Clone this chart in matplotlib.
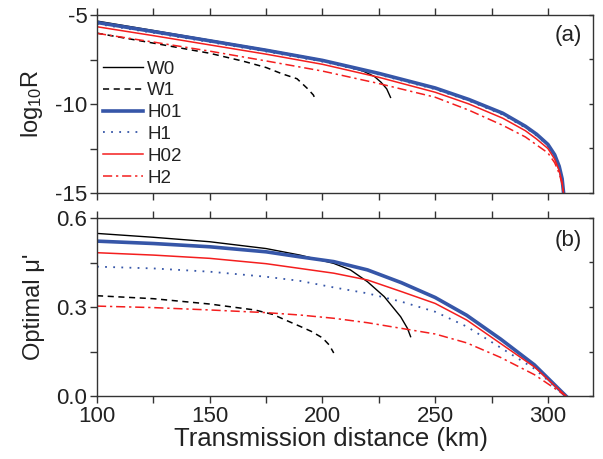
import matplotlib
matplotlib.use("Agg")
import matplotlib.pyplot as plt
from matplotlib.ticker import MultipleLocator

plt.rcParams['font.family'] = ['Liberation Sans', 'DejaVu Sans']
plt.rcParams['mathtext.fontset'] = 'custom'
plt.rcParams['mathtext.rm'] = 'Liberation Sans'
plt.rcParams['mathtext.it'] = 'Liberation Sans:italic'

# ---- Data: panel (a) log10 R ----
d_H = [100, 125, 150, 175, 200, 225, 250, 265, 280, 290, 295, 300, 303, 305, 306.3, 307.2]
R_H01 = [-5.42, -5.93, -6.45, -6.98, -7.55, -8.28, -9.10, -9.75, -10.52, -11.25, -11.70, -12.27, -12.85, -13.50, -14.20, -15.30]
R_H1 = [-5.50, -6.00, -6.52, -7.05, -7.62, -8.35, -9.17, -9.82, -10.60, -11.33, -11.78, -12.35, -12.95, -13.60, -14.30, -15.30]
R_H02 = [-5.66, -6.16, -6.68, -7.20, -7.77, -8.50, -9.34, -10.00, -10.80, -11.50, -11.97, -12.50, -13.10, -13.75, -14.40, -15.30]
R_H2 = [-6.03, -6.52, -7.03, -7.58, -8.15, -8.85, -9.62, -10.35, -11.20, -11.85, -12.30, -12.75, -13.30, -13.90, -14.50, -15.30]

d_W0_R = [100, 125, 150, 175, 200, 210, 218, 223, 226, 228.5, 230.2]
R_W0 = [-5.34, -5.87, -6.41, -6.95, -7.53, -7.85, -8.15, -8.45, -8.78, -9.15, -9.63]
d_W1_R = [100, 125, 150, 165, 175, 182, 188.7, 193.5, 196, 197]
R_W1 = [-6.02, -6.58, -7.15, -7.60, -7.95, -8.30, -8.58, -9.15, -9.50, -9.80]

# ---- Data: panel (b) optimal mu' ----
d_Hm = [100, 125, 150, 175, 190, 205, 220, 235, 250, 264, 279, 294, 308]
M_H01 = [0.522, 0.514, 0.503, 0.486, 0.469, 0.453, 0.425, 0.382, 0.332, 0.272, 0.192, 0.105, 0.0]
M_H1 = [0.436, 0.430, 0.419, 0.402, 0.388, 0.366, 0.346, 0.318, 0.284, 0.234, 0.163, 0.092, 0.0]
M_H02 = [0.483, 0.475, 0.464, 0.446, 0.430, 0.414, 0.391, 0.352, 0.312, 0.256, 0.177, 0.098, 0.0]
M_H2 = [0.303, 0.298, 0.290, 0.281, 0.273, 0.262, 0.247, 0.228, 0.209, 0.179, 0.130, 0.072, 0.0]

d_W0_M = [100, 125, 150, 175, 190, 205, 212.4, 220, 227.4, 234.7, 237.7, 239.1]
M_W0 = [0.548, 0.535, 0.520, 0.497, 0.475, 0.447, 0.425, 0.385, 0.335, 0.267, 0.228, 0.200]
d_W1_M = [100, 125, 150, 170, 178, 183, 190, 195, 200, 203, 205]
M_W1 = [0.338, 0.328, 0.310, 0.290, 0.275, 0.258, 0.235, 0.218, 0.196, 0.172, 0.145]

xticks = [100, 150, 200, 250, 300]
yticks_a = [-15, -10, -5]
yticks_b = [0.0, 0.3, 0.6]

blue = '#3656A8'
red = '#F41E1E'
styles = {
    'W0': dict(color='black', lw=1.0, ls='-'),
    'W1': dict(color='black', lw=1.1, ls=(0, (4, 3))),
    'H01': dict(color=blue, lw=2.6, ls='-'),
    'H1': dict(color=blue, lw=1.3, ls=(0, (1, 3.5))),
    'H02': dict(color=red, lw=1.1, ls='-'),
    'H2': dict(color=red, lw=1.1, ls=(0, (6, 2.5, 1.5, 2.5))),
}

fig = plt.figure(figsize=(6.03, 4.59), dpi=100)
ax1 = fig.add_axes([97/603, 1-193/459, 496/603, 178/459])
ax2 = fig.add_axes([97/603, 1-396/459, 496/603, 178/459])

ax1.plot(d_W0_R, R_W0, label='W0', **styles['W0'])
ax1.plot(d_W1_R, R_W1, label='W1', **styles['W1'])
ax1.plot(d_H, R_H01, label='H01', **styles['H01'])
ax1.plot(d_H, R_H1, label='H1', **styles['H1'])
ax1.plot(d_H, R_H02, label='H02', **styles['H02'])
ax1.plot(d_H, R_H2, label='H2', **styles['H2'])

ax2.plot(d_W0_M, M_W0, **styles['W0'])
ax2.plot(d_W1_M, M_W1, **styles['W1'])
ax2.plot(d_Hm, M_H01, **styles['H01'])
ax2.plot(d_Hm, M_H1, **styles['H1'])
ax2.plot(d_Hm, M_H02, **styles['H02'])
ax2.plot(d_Hm, M_H2, **styles['H2'])

ax1.set_xlim(100, 320)
ax1.set_ylim(-15, -5)
ax2.set_xlim(100, 320)
ax2.set_ylim(0, 0.6)

for ax in (ax1, ax2):
    ax.set_xticks(xticks)
    ax.xaxis.set_minor_locator(MultipleLocator(25))
    for sp in ax.spines.values():
        sp.set_linewidth(1.0)
        sp.set_color('#333333')
    ax.tick_params(axis='both', which='both', direction='out', length=5, width=1.0,
                   colors='#333333', labelcolor='#222222', labelsize=16, pad=2,
                   top=True, right=False)

ax1.set_yticks(yticks_a)
ax1.set_yticklabels([str(v) for v in yticks_a])
ax1.yaxis.set_minor_locator(MultipleLocator(2.5))
ax1.tick_params(axis='x', labelbottom=False)

ax2.set_yticks(yticks_b)
ax2.set_yticklabels(['%.1f' % v for v in yticks_b])
ax2.yaxis.set_minor_locator(MultipleLocator(0.15))
ax2.set_xticklabels([str(v) for v in xticks])

# right-side short inward ticks via twin axis
for ax, lim, maj, mnr in ((ax1, (-15, -5), yticks_a, 2.5), (ax2, (0, 0.6), yticks_b, 0.15)):
    tw = ax.twinx()
    tw.set_ylim(*lim)
    tw.set_yticks(maj)
    tw.yaxis.set_minor_locator(MultipleLocator(mnr))
    tw.tick_params(axis='y', which='both', direction='in', length=3, width=1.0,
                   colors='#333333', labelright=False)
    for sp in tw.spines.values():
        sp.set_visible(False)

ax1.set_ylabel('log$_{10}$R', fontsize=17, color='#222222')
ax2.set_ylabel("Optimal \u03bc'", fontsize=17, color='#222222')
ax2.set_xlabel('Transmission distance (km)', fontsize=18.5, color='#222222', labelpad=0)
ax2.xaxis.label.set_x(0.472)
ax1.yaxis.set_label_coords(-0.105, 0.5)
ax2.yaxis.set_label_coords(-0.105, 0.5)

ax1.text(0.978, 0.885, '(a)', transform=ax1.transAxes, ha='right', va='center',
         fontsize=16, color='#222222')
ax2.text(0.978, 0.876, '(b)', transform=ax2.transAxes, ha='right', va='center',
         fontsize=16, color='#222222')

leg = ax1.legend(loc='upper left', bbox_to_anchor=(0.012, 0.745), frameon=False,
                 fontsize=13.5, handlelength=2.15, handletextpad=0.2,
                 labelspacing=0.25, borderpad=0, borderaxespad=0)
for t in leg.get_texts():
    t.set_color('#222222')

fig.savefig('out.png', dpi=100)
